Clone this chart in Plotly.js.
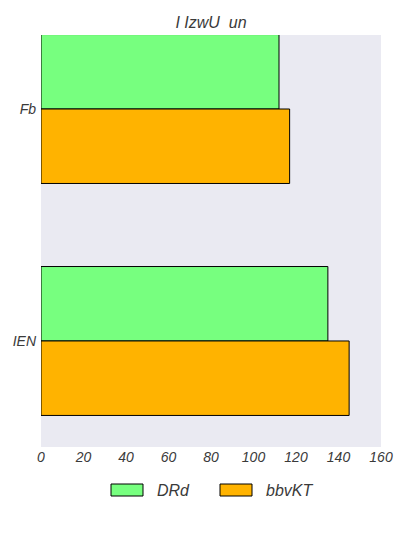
<!DOCTYPE html>
<html><head><meta charset="utf-8">
<script src="https://cdn.plot.ly/plotly-3.0.1.min.js"></script>
<style>body{margin:0;padding:0;background:#fff}#chart{width:408px;height:544px}</style>
</head><body><div id="chart"></div>
<script>
const categories = ['Fb', 'IEN'];
const seriesNames = ['DRd', 'bbvKT'];
const drdValues = [112, 135];
const bbvktValues = [117, 145];
const colors = ['#77FF7F', '#FFB300'];
const xTicks = [0, 20, 40, 60, 80, 100, 120, 140, 160];

const fnt = {family: 'Liberation Sans, Arial, sans-serif', size: 14, color: '#3a3a3a'};
const traces = [drdValues, bbvktValues].map((vals, i) => ({
  type: 'bar', orientation: 'h', name: seriesNames[i],
  y: categories, x: vals,
  marker: {color: colors[i], line: {color: '#000', width: 1}},
  showlegend: false
}));

// custom wide-swatch legend (paper coords)
const W = 408, H = 544, L = 41, R = 27, T = 35, B = 97;
const pw = W - L - R, ph = H - T - B;
const px = x => (x - L) / pw;
const py = y => (H - B - y) / ph;
const legX = [111, 220];
const shapes = [], annotations = [];
seriesNames.forEach((n, i) => {
  shapes.push({type: 'rect', xref: 'paper', yref: 'paper',
    x0: px(legX[i]), x1: px(legX[i] + 32), y0: py(496), y1: py(484),
    fillcolor: colors[i], line: {color: '#000', width: 1}});
  annotations.push({xref: 'paper', yref: 'paper', x: px(legX[i] + 44), y: py(490),
    xanchor: 'left', yanchor: 'middle', showarrow: false,
    text: '<i>' + n + '</i>', font: Object.assign({}, fnt, {size: 16})});
});

const layout = {
  width: W, height: H,
  margin: {l: L, r: R, t: T, b: B},
  paper_bgcolor: '#fff', plot_bgcolor: '#EAEAF2',
  title: {text: '<i>I IzwU  un</i>', x: 0.5, xref: 'paper', y: 1, yref: 'paper', yanchor: 'bottom', pad: {b: 7}, font: {family: fnt.family, size: 16, color: '#3a3a3a'}},
  barmode: 'group', bargap: 0.358, bargroupgap: 0,
  xaxis: {range: [0, 160], tickvals: xTicks, ticktext: xTicks.map(v => '<i>' + v + '</i>'), showgrid: false, zeroline: false, ticks: '', tickfont: fnt, showline: false},
  yaxis: {type: 'category', range: [1.457, -0.319], tickvals: categories, ticktext: categories.map(c => '<i>' + c + '</i>'), showgrid: false, zeroline: false, ticks: '', tickfont: fnt, ticklabelstandoff: 4},
  showlegend: false,
  shapes: shapes,
  annotations: annotations
};
Plotly.newPlot('chart', traces, layout, {displayModeBar: false, staticPlot: true});
</script></body></html>
